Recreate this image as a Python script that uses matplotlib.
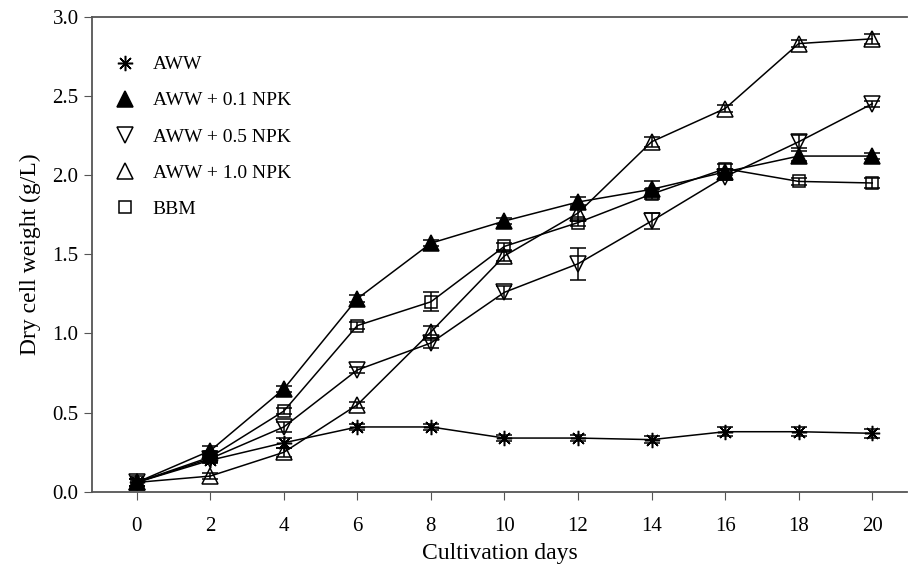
import matplotlib
matplotlib.use('Agg')
import matplotlib.pyplot as plt
from matplotlib.lines import Line2D

days = [0, 2, 4, 6, 8, 10, 12, 14, 16, 18, 20]

aww = [0.06, 0.20, 0.31, 0.41, 0.41, 0.34, 0.34, 0.33, 0.38, 0.38, 0.37]
aww_err = [0.02, 0.02, 0.03, 0.02, 0.02, 0.02, 0.02, 0.02, 0.03, 0.03, 0.03]

npk01 = [0.06, 0.26, 0.65, 1.22, 1.57, 1.71, 1.83, 1.91, 2.02, 2.12, 2.12]
npk01_err = [0.02, 0.03, 0.02, 0.02, 0.02, 0.02, 0.03, 0.05, 0.02, 0.03, 0.02]

npk05 = [0.06, 0.21, 0.41, 0.77, 0.94, 1.26, 1.44, 1.71, 1.99, 2.21, 2.45]
npk05_err = [0.02, 0.02, 0.03, 0.02, 0.03, 0.04, 0.10, 0.05, 0.02, 0.04, 0.02]

npk10 = [0.06, 0.10, 0.25, 0.55, 1.01, 1.49, 1.76, 2.21, 2.42, 2.83, 2.86]
npk10_err = [0.02, 0.02, 0.03, 0.02, 0.04, 0.03, 0.05, 0.03, 0.02, 0.02, 0.03]

bbm = [0.06, 0.22, 0.51, 1.05, 1.20, 1.55, 1.70, 1.88, 2.04, 1.96, 1.95]
bbm_err = [0.02, 0.03, 0.02, 0.02, 0.06, 0.02, 0.02, 0.03, 0.03, 0.02, 0.03]

plt.rcParams['font.family'] = ['Liberation Serif', 'DejaVu Serif']

fig = plt.figure(figsize=(9.09, 5.74), dpi=100)
ax = fig.add_axes([0.101, 0.143, 0.897, 0.828])

series = [
    ("AWW", aww, aww_err, (8, 2, 0), 'k'),
    ("AWW + 0.1 NPK", npk01, npk01_err, '^', 'k'),
    ("AWW + 0.5 NPK", npk05, npk05_err, 'v', 'none'),
    ("AWW + 1.0 NPK", npk10, npk10_err, '^', 'none'),
    ("BBM", bbm, bbm_err, 's', 'none'),
]

handles = []
for label, vals, err, mk, fc in series:
    ms = 11 if mk != 's' else 9
    ax.errorbar(days, vals, yerr=err, color='k', lw=1.1, marker=mk,
                markersize=ms, markerfacecolor=fc,
                markeredgecolor='k', markeredgewidth=1.1,
                capsize=6, elinewidth=1.1, capthick=1.1)
    handles.append(Line2D([], [], linestyle='none', marker=mk, markersize=ms,
                          markerfacecolor=fc, markeredgecolor='k',
                          markeredgewidth=1.1, label=label))

ax.set_xlim(-1.22, 20.95)
ax.set_ylim(0, 3.0)
ax.set_xticks(days)
ax.set_yticks([0.0, 0.5, 1.0, 1.5, 2.0, 2.5, 3.0])
ax.set_yticklabels(['0.0', '0.5', '1.0', '1.5', '2.0', '2.5', '3.0'])
ax.tick_params(labelsize=15, direction='out', length=6, color='#555555')
ax.tick_params(axis='x', pad=12)
ax.spines['right'].set_visible(False)
for s in ['left', 'bottom', 'top']:
    ax.spines[s].set_color('#555555')
    ax.spines[s].set_linewidth(1.3)

ax.set_xlabel("Cultivation days", fontsize=17, labelpad=5)
ax.set_ylabel("Dry cell weight (g/L)", fontsize=17, labelpad=8)

ax.legend(handles=handles, loc='upper left', frameon=False, fontsize=14,
          handlelength=1.0, handletextpad=0.9, labelspacing=0.95,
          bbox_to_anchor=(-0.004, 0.975), borderaxespad=1.0)

fig.savefig("out.png", dpi=100)
